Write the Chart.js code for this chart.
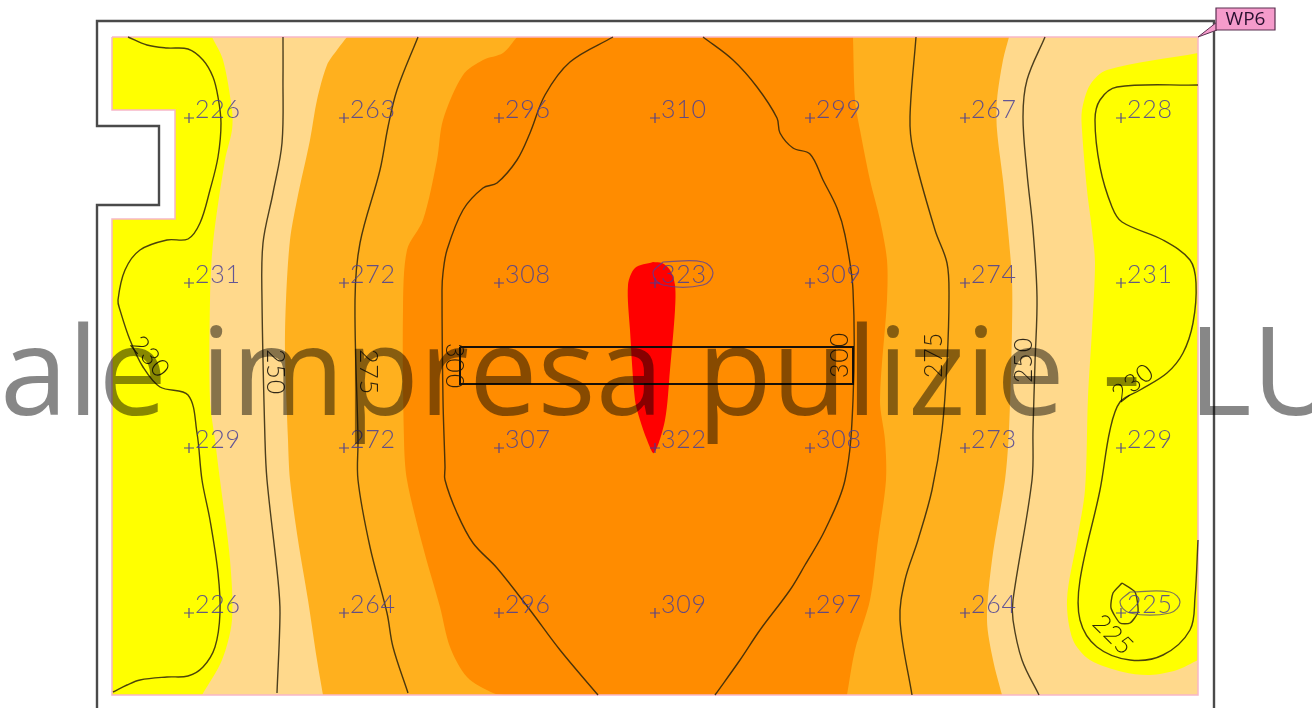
<!DOCTYPE html>
<html><head><meta charset="utf-8">
<style>html,body{margin:0;padding:0;background:#fff;overflow:hidden}canvas{display:block;filter:blur(0.6px)}</style>
<script src="https://cdn.jsdelivr.net/npm/chart.js@4/dist/chart.umd.min.js"></script>
</head><body><canvas id="c" width="1312" height="708"></canvas>
<script>
// Calculation grid and readings
const gridX = [189,344,499,655,810,965,1121];
const gridY = [118,283,448,613];
const row1 = [226,263,296,310,299,267,228];
const row2 = [231,272,308,323,309,274,231];
const row3 = [229,272,307,322,308,273,229];
const row4 = [226,264,296,309,297,264,225];
const readings = [row1,row2,row3,row4];

// Room and wall outlines (reference units)
const room = [[112,37],[112,37],[1198,37],[1198,37],[1198,695],[1198,695],[112,695],[112,695],[112,219],[112,219],[175,219],[175,219],[175,110],[175,110],[112,110],[112,110],[112,37],[112,37]];
const wall = [[97,708],[97,205],[159,205],[159,126],[97,126],[97,21],[1214,21],[1214,708]];
const luminaire = [[460,347],[853,347],[853,384],[460,384],[460,347]];

// Filled bands
const bandMid = [[347,37],[347,37],[337,50],[327,65],[317,100],[310,140],[297,200],[290,240],[286,300],[285,350],[288,440],[290,480],[298,540],[308,600],[317,660],[323,695],[323,695],[1002,695],[1002,695],[993,660],[987,620],[992,560],[1005,480],[1009,430],[1012,330],[1012,280],[1008,230],[1003,180],[997,130],[997,100],[1003,60],[1009,37],[1009,37],[347,37]];
const bandHigh = [[517,37],[517,37],[503,53],[483,60],[463,75],[443,120],[437,160],[423,220],[407,250],[403,310],[404,440],[407,480],[423,547],[440,607],[450,647],[467,677],[493,693],[505,695],[505,695],[847,695],[847,695],[855,650],[870,600],[878,540],[886,480],[885,440],[880,400],[887,300],[887,260],[880,220],[870,180],[860,130],[855,100],[853,37],[853,37],[517,37]];
const bandPeak = [[653,262],[635,268],[628,285],[630,330],[635,400],[640,420],[647,440],[654,453],[665,420],[670,370],[675,310],[675,285],[670,270],[662,263],[653,262]];
const bandLowLeft = [[112,37],[112,37],[212,37],[212,37],[223,60],[232,110],[232,130],[225,160],[213,243],[210,300],[210,400],[215,440],[220,480],[230,560],[232,620],[222,660],[202,695],[202,695],[112,695],[112,695],[112,219],[112,219],[175,219],[175,219],[175,110],[175,110],[112,110],[112,110],[112,37]];
const bandLowRight = [[1198,53],[1198,53],[1107,70],[1090,85],[1082,110],[1082,130],[1087,190],[1092,230],[1095,263],[1092,330],[1088,397],[1085,490],[1077,540],[1067,600],[1073,640],[1090,660],[1123,672],[1150,675],[1177,670],[1198,660],[1198,660],[1198,53]];

// Contour lines
const c230Left = [[128,37],[147,45],[167,48],[188,49],[203,60],[213,77],[218,97],[221,123],[218,157],[210,190],[200,223],[188,239],[167,240],[140,250],[125,270],[118,300],[120,310],[130,340],[143,367],[160,387],[188,395],[197,433],[202,480],[210,520],[218,573],[220,613],[215,647],[203,667],[188,676],[167,677],[140,680],[127,685],[113,692]];
const c250Left = [[283,37],[283,77],[282,143],[273,193],[263,243],[262,300],[265,440],[267,480],[278,580],[280,613],[277,693]];
const c275Left = [[418,37],[397,90],[388,127],[380,170],[360,243],[355,300],[358,440],[358,480],[370,547],[387,613],[393,647],[408,693]];
const c300Left = [[613,37],[570,62],[545,95],[530,133],[517,160],[497,183],[483,188],[463,210],[447,250],[443,273],[442,290],[443,400],[445,467],[445,480],[457,513],[473,543],[497,568],[530,610],[560,650],[598,695]];
const c300Right = [[703,37],[733,60],[757,87],[777,118],[780,133],[793,148],[810,154],[823,180],[837,208],[845,235],[853,290],[853,400],[845,480],[825,530],[805,565],[790,590],[760,630],[740,660],[715,695]];
const c275Right = [[916,37],[910,117],[913,150],[935,230],[947,263],[949,297],[947,363],[942,430],[932,490],[918,540],[905,580],[900,620],[912,695]];
const c250Right = [[1045,37],[1027,80],[1023,117],[1027,173],[1033,230],[1037,297],[1035,363],[1033,430],[1032,480],[1013,600],[1013,620],[1022,660],[1039,695]];
const c230Right = [[1198,85],[1117,87],[1100,100],[1095,120],[1100,167],[1112,207],[1122,222],[1163,240],[1190,260],[1196,283],[1193,323],[1183,353],[1167,373],[1140,390],[1120,402],[1110,430],[1100,490],[1080,580],[1080,620],[1097,647],[1130,660],[1163,655],[1190,630],[1195,597],[1198,540]];
const c225 = [[1122,583],[1135,592],[1138,612],[1130,623],[1120,623],[1111,608],[1113,593],[1122,583]];
const peakRing = [[663,262],[703,262],[713,273],[703,285],[663,285],[653,273],[663,262]];
const lowRing = [[1130,592],[1170,592],[1180,602],[1170,613],[1130,613],[1120,602],[1130,592]];
const tagWedge = [[1198,37],[1217,22],[1217,30],[1198,37]];

// Rotated contour captions: value, x, y, angle in degrees
const captions = [["230",150,357,50],["250",275,372,90],["275",368,372,90],["300",454,366,90],["300",840,355,-90],["275",934,355,-90],["250",1024,360,-90],["230",1133,383,-38],["225",1113,635,45]];
const watermarkWords = "ale impresa pulizie";
const watermarkTail = "- LU";
const tagText = "WP6";

const toPts = a => a.map(p => ({x:p[0],y:p[1]}));
const LIGHT='#FFD98C', MID='#FFB01E', HIGH='#FF8C00', PEAK='#FF0000', LOW='#FFFF00', TAG='#F59BCB';
const area = (pts,color) => ({data:toPts(pts),showLine:true,fill:'shape',backgroundColor:color,borderColor:color,borderWidth:0,pointRadius:0,tension:0.3});
const line = (pts,color,w,t) => ({data:toPts(pts),showLine:true,fill:false,borderColor:color,borderWidth:w,pointRadius:0,tension:t});
const ISO='rgba(45,35,10,0.85)';
const LW=1.4;
const layers = [
  area(room,LIGHT), area(bandMid,MID), area(bandHigh,HIGH), area(bandPeak,PEAK), area(bandLowLeft,LOW), area(bandLowRight,LOW),
  line(room,'#F7B7C8',1.5,0), line(wall,'#4a4a4a',2.4,0),
  line(c230Left,ISO,LW,0.35), line(c250Left,ISO,LW,0.35), line(c275Left,ISO,LW,0.35), line(c300Left,ISO,LW,0.35), line(c300Right,ISO,LW,0.35), line(c275Right,ISO,LW,0.35), line(c250Right,ISO,LW,0.35), line(c230Right,ISO,LW,0.35), line(c225,ISO,LW,0.2),
  line(luminaire,'rgba(10,10,10,0.95)',2,0),
  line(peakRing,'rgba(80,60,160,0.75)',1.2,0.4), line(lowRing,'rgba(80,70,120,0.75)',1.2,0.4),
  {...area(tagWedge,TAG),tension:0,borderColor:'#5a3050',borderWidth:1},
  {data:gridY.flatMap(y=>gridX.map(x=>({x,y}))),showLine:false,pointStyle:'cross',pointRadius:5,pointBorderWidth:1.2,pointBorderColor:'rgba(70,60,150,0.9)',borderColor:'rgba(70,60,150,0.9)'}
];
layers.forEach((d,i)=>{d.order=layers.length-i;});

const textLayer = {
  id:'textLayer',
  afterDatasetsDraw(chart){
    const {ctx,scales:{x:sx,y:sy}} = chart;
    ctx.save();
    ctx.textBaseline='alphabetic'; ctx.textAlign='left';
    ctx.font='300 25px Lato, "DejaVu Sans"';
    ctx.letterSpacing='0.8px';
    ctx.fillStyle='rgba(72,62,150,0.85)';
    readings.forEach((row,r)=>row.forEach((v,c)=>{
      ctx.fillText(String(v),sx.getPixelForValue(gridX[c])+6,sy.getPixelForValue(gridY[r]));
    }));
    ctx.fillStyle='rgba(25,20,10,0.9)';
    ctx.font='300 25px Lato, "DejaVu Sans"';
    ctx.textAlign='center'; ctx.textBaseline='middle';
    captions.forEach(([t,x,y,a])=>{
      ctx.save();
      ctx.translate(sx.getPixelForValue(x),sy.getPixelForValue(y));
      ctx.rotate(a*Math.PI/180);
      ctx.fillText(t,0,0);
      ctx.restore();
    });
    ctx.letterSpacing='0px';
    // tag
    const tx=sx.getPixelForValue(1216), ty=sy.getPixelForValue(8), tw=59, th=22;
    ctx.fillStyle=TAG; ctx.strokeStyle='#5a3050'; ctx.lineWidth=1.2;
    ctx.beginPath(); ctx.rect(tx,ty,tw,th); ctx.fill(); ctx.stroke();
    ctx.fillStyle='#2a1030'; ctx.font='19px "Open Sans"';
    ctx.fillText(tagText,tx+tw/2,ty+th/2+1);
    // watermark
    ctx.textAlign='left'; ctx.textBaseline='alphabetic';
    ctx.fillStyle='rgba(0,0,0,0.47)'; ctx.font='500 122px "Open Sans"';
    ctx.wordSpacing='2px';
    ctx.fillText(watermarkWords,sx.getPixelForValue(0),sy.getPixelForValue(415));
    ctx.wordSpacing='15px';
    ctx.fillText(watermarkTail,sx.getPixelForValue(1102),sy.getPixelForValue(415));
    ctx.restore();
  }
};

new Chart(document.getElementById('c'),{
  type:'scatter',
  data:{datasets:layers},
  options:{
    responsive:false,animation:false,events:[],
    layout:{padding:0,autoPadding:false},
    plugins:{legend:{display:false},tooltip:{enabled:false},title:{display:false}},
    scales:{
      x:{type:'linear',min:0,max:1312,display:false},
      y:{type:'linear',min:0,max:708,reverse:true,display:false}
    }
  },
  plugins:[textLayer]
});
</script></body></html>
